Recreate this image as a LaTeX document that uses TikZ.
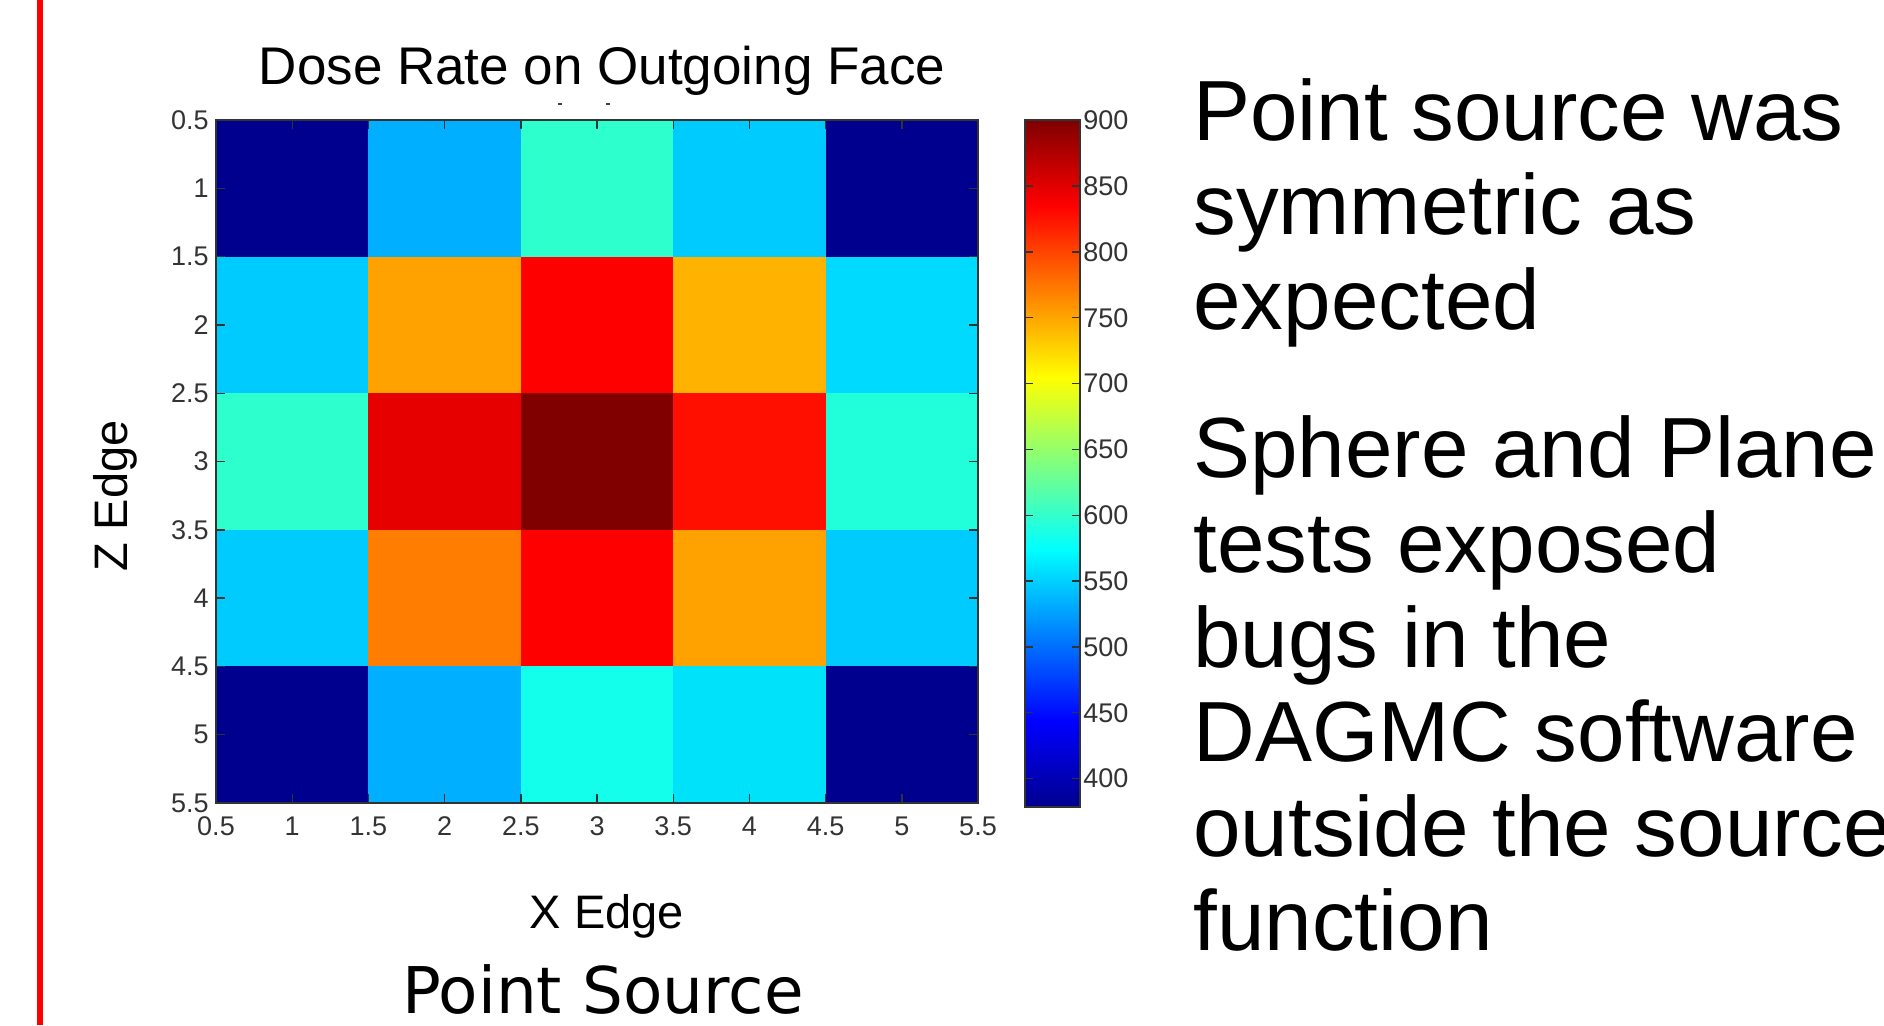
\documentclass[tikz,border=0pt]{standalone}
\usepackage{fontspec}
\setmainfont{Liberation Sans}
\newfontfamily\captionfont{DejaVu Sans}
\usetikzlibrary{positioning}

\definecolor{navyc}{RGB}{0,0,143}
\definecolor{blueA}{RGB}{0,175,255}
\definecolor{blueB}{RGB}{0,203,255}
\definecolor{blueC}{RGB}{0,218,255}
\definecolor{blueD}{RGB}{0,225,250}
\definecolor{aquaA}{RGB}{45,255,205}
\definecolor{aquaB}{RGB}{32,255,218}
\definecolor{cyanA}{RGB}{20,255,235}
\definecolor{orangeA}{RGB}{255,162,0}
\definecolor{orangeB}{RGB}{255,178,0}
\definecolor{orangeC}{RGB}{255,125,0}
\definecolor{redA}{RGB}{255,0,0}
\definecolor{redB}{RGB}{230,0,0}
\definecolor{redC}{RGB}{255,15,0}
\definecolor{darkred}{RGB}{128,0,0}

\pgfdeclareverticalshading{jetbar}{100bp}{rgb(0bp)=(0,0,0.56); rgb(25bp)=(0,0,0.56);
  rgb(31.25bp)=(0,0,1); rgb(43.75bp)=(0,1,1); rgb(56.25bp)=(1,1,0);
  rgb(68.75bp)=(1,0,0); rgb(75bp)=(0.5,0,0); rgb(100bp)=(0.5,0,0)}

\begin{document}
\begin{tikzpicture}[
	x=0.5pt,y=-0.5pt,
	every node/.style={inner sep=0pt},
	ticklabel/.style={font=\fontsize{13.5}{13.5}\selectfont,text=black!80},
	tickmark/.style={draw=black!80,line width=0.7pt},
	bigtext/.style={font=\fontsize{42.7}{47}\selectfont,anchor=base west}
]
\useasboundingbox[fill=white] (0,0) rectangle (1884,1025);
\fill[red] (37,0) rectangle (43,1025);

% dose map, one cell per edge position
\begin{scope}[shift={(139.8,51.7)},x=76.2pt,y=-68.3pt]
\foreach \r/\cells in {1/{navyc,blueA,aquaA,blueB,navyc},
		2/{blueB,orangeA,redA,orangeB,blueC},
		3/{aquaA,redB,darkred,redC,aquaB},
		4/{blueB,orangeC,redA,orangeA,blueB},
		5/{navyc,blueA,cyanA,blueD,navyc}}
	\foreach \c [count=\i] in \cells
		\fill[\c] (\i-0.5,\r-0.5) rectangle (\i+0.5,\r+0.5);
\coordinate (plotNW) at (0.5,0.5);
\coordinate (plotSE) at (5.5,5.5);
\draw[black!80,line width=0.7pt] (plotNW) rectangle (plotSE);
\foreach \t [count=\k] in {0.5,1,1.5,2,2.5,3,3.5,4,4.5,5,5.5} {
	\draw[tickmark] (\t,5.5) -- ++(0,4.5pt);
	\draw[tickmark] (\t,0.5) -- ++(0,-4.5pt);
	\draw[tickmark] (0.5,\t) -- ++(4.5pt,0);
	\draw[tickmark] (5.5,\t) -- ++(-4.5pt,0);
	\node[ticklabel,anchor=east] (ylab\k) at ([xshift=-3.5pt]0.5,\t) {\t};
	\node[ticklabel] (xlab\k) at ([yshift=-11.5pt]\t,5.5) {\t};
}
\end{scope}

% colour bar
\shade[shading=jetbar] (1025,120) rectangle (1080,807);
\draw[black!80,line width=0.7pt] (1025,120) rectangle (1080,807);
\begin{scope}[shift={(0,1305.3)},y=0.6584pt]
\foreach \v [count=\k] in {400,450,...,900} {
	\draw[tickmark] (1025,\v) -- ++(4pt,0);
	\draw[tickmark] (1080,\v) -- ++(-4pt,0);
	\node[ticklabel,anchor=west] (cblab\k) at (1083,\v) {\v};
}
\end{scope}

\node[font=\fontsize{26.5}{26.5}\selectfont,anchor=base] (title) at (602,84) {Dose Rate on Outgoing Face};
\draw[black!75,line width=1pt] (558,104) -- (562,104) (606,104) -- (610,104);
\node[font=\fontsize{23.5}{23.5}\selectfont,anchor=base,rotate=90] (zlabel) at (127,496) {Z Edge};
\node[font=\fontsize{23.5}{23.5}\selectfont,anchor=base] (xlabel) at (607,928) {X Edge};
\node[font=\captionfont\fontsize{32.2}{32.2}\selectfont,anchor=base] (caption) at (603,1013) {Point Source};

\foreach \yy/\txt [count=\k] in {140/Point source was,234.5/symmetric as,329/expected,
		477/Sphere and Plane,572/tests exposed,667/bugs in the,761/DAGMC software,
		856/outside the source,950/function}
	\node[bigtext] (note\k) at (1193,\yy) {\txt};
\end{tikzpicture}
\end{document}
